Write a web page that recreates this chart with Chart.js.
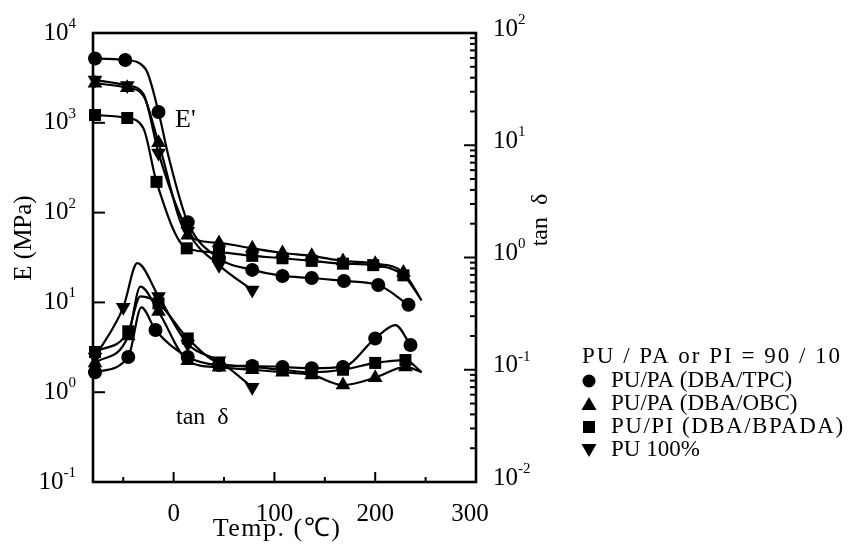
<!DOCTYPE html>
<html lang="en">
<head>
<meta charset="UTF-8">
<title>E' and tan delta vs temperature</title>
<script src="https://cdn.jsdelivr.net/npm/chart.js"></script>
<style>
    body { margin: 0; background: #fff; }
    #wrap { width: 863px; height: 546px; }
</style>
</head>
<body>
<div id="wrap"><canvas id="myChart" width="863" height="546"></canvas></div>
<script>
// storage modulus E' (MPa) – measured points [temp, value]
const eTPC = [[-78, 5200], [-48, 5000], [-15, 1320], [14, 78], [45, 31], [78, 23], [108, 19.7], [137, 18.7], [169, 17.3], [203, 15.6], [233, 9.4]];
const eOBC = [[-78, 2760], [-46, 2450], [-15, 600], [14, 56], [45, 46], [78, 40], [108, 35.5], [137, 33], [168, 29], [200, 27], [228, 21.5]];
const eBPADA = [[-78, 1220], [-46, 1130], [-17, 220], [13, 40], [45, 36], [78, 33], [108, 31], [137, 29], [168, 27], [198, 26], [228, 20]];
const ePU = [[-78, 3000], [-46, 2600], [-15, 460], [14, 62], [45, 26], [78, 13.7]];

// extra points (no marker)
const eTPCCurve = [[-28, 4000], [-5, 420]];
const eOBCCurve = [[-30, 2000], [246, 10.5]];
const eBPADACurve = [[-30, 870], [243, 12]];
const ePUCurve = [[-30, 2100]];

// tan delta – measured points
const tTPC = [[-78, 0.095], [-45, 0.13], [-18, 0.226], [14, 0.13], [45, 0.11], [78, 0.108], [108, 0.106], [137, 0.103], [168, 0.106], [200, 0.19], [235, 0.166]];
const tOBC = [[-78, 0.115], [-45, 0.2], [-15, 0.33], [14, 0.12], [45, 0.105], [78, 0.1], [108, 0.095], [137, 0.09], [168, 0.073], [200, 0.085], [230, 0.106]];
const tBPADA = [[-78, 0.144], [-45, 0.22], [-15, 0.39], [14, 0.19], [45, 0.115], [78, 0.106], [108, 0.1], [137, 0.095], [168, 0.1], [200, 0.115], [230, 0.122]];
const tPU = [[-78, 0.13], [-50, 0.36], [-15, 0.45], [14, 0.17], [45, 0.12], [78, 0.07]];

// extra points (peaks, ends)
const tTPCCurve = [[-32, 0.36], [220, 0.25]];
const tOBCCurve = [[-33, 0.55], [246, 0.095]];
const tBPADACurve = [[-33, 0.45], [246, 0.095]];
const tPUCurve = [[-36, 0.89]];

const seriesNames = ['PU/PA (DBA/TPC)', 'PU/PA (DBA/OBC)', 'PU/PI (DBA/BPADA)', 'PU 100%'];
const legendTitle = 'PU / PA or PI = 90 / 10';
const leftExps = [4, 3, 2, 1, 0, -1];
const rightExps = [2, 1, 0, -1, -2];
const xTickLabels = [0, 100, 200, 300];
const xMinorTicks = [-50, 50, 150, 250];

const FONT = '"Liberation Serif", "Times New Roman", serif';
const styles = [
    { pointStyle: 'circle', rotation: 0, r: 7 },
    { pointStyle: 'triangle', rotation: 0, r: 8.5 },
    { pointStyle: 'rect', rotation: 0, r: 8.5 },
    { pointStyle: 'triangle', rotation: 180, r: 8.5 }
];

function merge(marked, curve) {
    const pts = marked.map(p => ({ x: p[0], y: p[1], m: true }))
        .concat(curve.map(p => ({ x: p[0], y: p[1], m: false })));
    return pts.sort((a, b) => a.x - b.x);
}

function makeSet(marked, curve, i, axis) {
    const st = styles[i];
    return {
        data: merge(marked, curve),
        yAxisID: axis,
        showLine: true,
        borderColor: '#000',
        backgroundColor: '#000',
        borderWidth: 2.2,
        cubicInterpolationMode: 'monotone',
        pointStyle: st.pointStyle,
        rotation: st.rotation,
        pointRadius: c => (c.raw && c.raw.m ? st.r : 0),
        pointBorderWidth: 0,
        clip: false
    };
}

const eSets = [[eTPC, eTPCCurve], [eOBC, eOBCCurve], [eBPADA, eBPADACurve], [ePU, ePUCurve]];
const tSets = [[tTPC, tTPCCurve], [tOBC, tOBCCurve], [tBPADA, tBPADACurve], [tPU, tPUCurve]];

const datasets = [];
eSets.forEach((s, i) => datasets.push(makeSet(s[0], s[1], i, 'y')));
tSets.forEach((s, i) => datasets.push(makeSet(s[0], s[1], i, 'y2')));

function line(ctx, x1, y1, x2, y2) {
    ctx.beginPath(); ctx.moveTo(x1, y1); ctx.lineTo(x2, y2); ctx.stroke();
}

// "10" with superscript exponent
function drawPow(ctx, exp, x, y, align) {
    ctx.font = '25px ' + FONT;
    const wb = ctx.measureText('10').width;
    ctx.font = '15px ' + FONT;
    const es = String(exp);
    const we = ctx.measureText(es).width;
    const x0 = align === 'right' ? x - wb - we : x;
    ctx.textAlign = 'left';
    ctx.textBaseline = 'middle';
    ctx.font = '25px ' + FONT;
    ctx.fillText('10', x0, y);
    ctx.font = '15px ' + FONT;
    ctx.fillText(es, x0 + wb, y - 9);
}

function marker(ctx, i, x, y) {
    ctx.beginPath();
    if (i === 0) ctx.arc(x, y, 6.5, 0, Math.PI * 2);
    else if (i === 1) { ctx.moveTo(x, y - 7); ctx.lineTo(x + 7.5, y + 6); ctx.lineTo(x - 7.5, y + 6); }
    else if (i === 2) ctx.rect(x - 6, y - 6, 12, 12);
    else { ctx.moveTo(x, y + 7); ctx.lineTo(x + 7.5, y - 6); ctx.lineTo(x - 7.5, y - 6); }
    ctx.closePath();
    ctx.fill();
}

const overlay = {
    id: 'overlay',
    afterDraw(chart) {
        const { ctx, chartArea: a, scales } = chart;
        const xs = scales.x, ys = scales.y, y2 = scales.y2;
        ctx.save();
        ctx.strokeStyle = '#000';
        ctx.fillStyle = '#000';
        ctx.lineWidth = 2.6;
        ctx.strokeRect(a.left, a.top, a.right - a.left, a.bottom - a.top);

        ctx.lineWidth = 2;
        // left axis: major ticks + labels
        leftExps.forEach(e => {
            const py = ys.getPixelForValue(Math.pow(10, e));
            if (e < 4 && e > -1) line(ctx, a.left, py, a.left + 12, py);
            drawPow(ctx, e, 76, py, 'right');
        });
        // right axis: major + minor ticks
        rightExps.forEach(e => {
            const py = y2.getPixelForValue(Math.pow(10, e));
            if (e < 2 && e > -2) line(ctx, a.right, py, a.right - 12, py);
            drawPow(ctx, e, 493, py - 4, 'left');
            if (e > -2) {
                for (let k = 2; k <= 9; k++) {
                    const pm = y2.getPixelForValue(k * Math.pow(10, e - 1));
                    line(ctx, a.right, pm, a.right - 6, pm);
                }
            }
        });
        // bottom axis
        xTickLabels.forEach(v => {
            const px = xs.getPixelForValue(v);
            if (v < 300) line(ctx, px, a.bottom, px, a.bottom - 10);
            ctx.font = '25px ' + FONT;
            ctx.textAlign = 'center';
            ctx.textBaseline = 'middle';
            ctx.fillText(String(v), v === 300 ? px - 6 : px, 514);
        });
        xMinorTicks.forEach(v => {
            const px = xs.getPixelForValue(v);
            line(ctx, px, a.bottom, px, a.bottom - 5);
        });

        // axis titles
        ctx.font = '26px ' + FONT;
        ctx.textAlign = 'center';
        ctx.textBaseline = 'middle';
        ctx.letterSpacing = '1.5px';
        ctx.fillText('Temp. (\u2103)', 277, 529);
        ctx.letterSpacing = '0px';
        ctx.font = '25px ' + FONT;
        ctx.save();
        ctx.translate(24, 238);
        ctx.rotate(-Math.PI / 2);
        ctx.fillText('E (MPa)', 0, 0);
        ctx.restore();
        ctx.font = '24px ' + FONT;
        ctx.save();
        ctx.translate(541, 220);
        ctx.rotate(-Math.PI / 2);
        ctx.fillText('tan  \u03b4', 0, 0);
        ctx.restore();

        // annotations
        ctx.textAlign = 'left';
        ctx.font = '26px ' + FONT;
        ctx.fillText("E'", 175, 120);
        ctx.font = '24px ' + FONT;
        ctx.fillText('tan  \u03b4', 176, 418);

        // legend
        ctx.font = '23px ' + FONT;
        ctx.letterSpacing = '2px';
        ctx.fillText(legendTitle, 582, 357);
        seriesNames.forEach((n, i) => {
            const ly = 381 + i * 23;
            marker(ctx, i, 589, ly);
            ctx.letterSpacing = i === 2 ? '1.5px' : '0px';
            ctx.fillText(n, 611, ly);
        });
        ctx.letterSpacing = '0px';
        ctx.restore();
    }
};

new Chart(document.getElementById('myChart'), {
    type: 'scatter',
    data: { datasets: datasets },
    options: {
        responsive: false,
        animation: false,
        layout: { padding: { left: 93, right: 387, top: 33, bottom: 64 } },
        plugins: { legend: { display: false }, tooltip: { enabled: false } },
        scales: {
            x: { type: 'linear', min: -80, max: 300, display: false },
            y: { type: 'logarithmic', min: 0.1, max: 10000, display: false },
            y2: { type: 'logarithmic', min: 0.01, max: 100, display: false, position: 'right' }
        }
    },
    plugins: [overlay]
});
</script>
</body>
</html>
